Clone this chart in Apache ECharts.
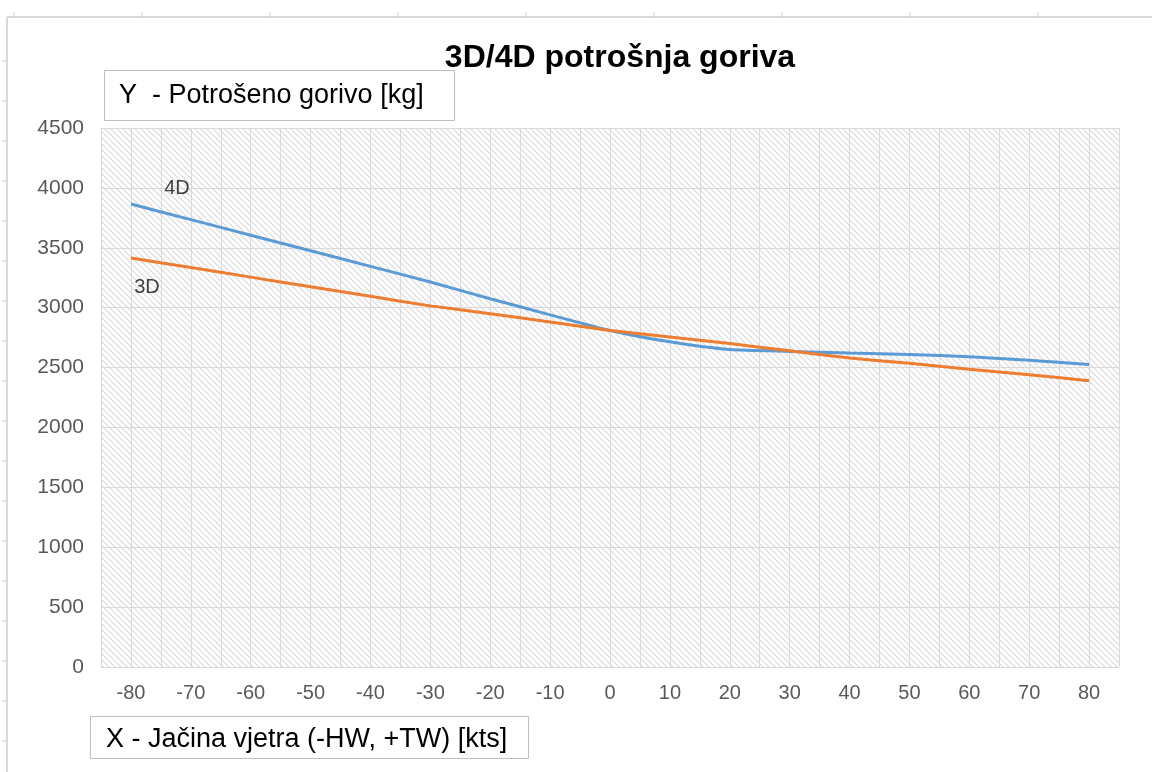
<!DOCTYPE html>
<html>
<head>
<meta charset="utf-8">
<script src="https://cdn.jsdelivr.net/npm/echarts@6/dist/echarts.min.js"></script>
<style>
html,body{margin:0;padding:0;background:#fff;}
#c{width:1152px;height:772px;}
</style>
</head>
<body>
<div id="c"></div>
<script>
// ---- data ----
const windKts = [-80,-70,-60,-50,-40,-30,-20,-10,0,10,20,30,40,50,60,70,80];
const fuel4D = [3865,3735,3605,3475,3345,3214,3075,2940,2810,2715,2650,2635,2622,2610,2590,2560,2525];
const fuel3D = [3415,3335,3255,3175,3095,3015,2950,2880,2810,2755,2700,2640,2580,2535,2485,2440,2390];
const seriesNames = ['4D','3D'];
const chartTitle = '3D/4D potrošnja goriva';
const yTitle = 'Y  - Potrošeno gorivo [kg]';
const xTitle = 'X - Jačina vjetra (-HW, +TW) [kts]';

// hatch pattern tile
function makeHatch(p){
  const c = document.createElement('canvas');
  c.width = p; c.height = p;
  const g = c.getContext('2d');
  g.fillStyle = '#ffffff'; g.fillRect(0,0,p,p);
  g.strokeStyle = '#d9d9d9'; g.lineWidth = 1.2;
  g.beginPath();
  g.moveTo(-1,-1); g.lineTo(p+1,p+1);
  g.moveTo(-1,p-1); g.lineTo(1,p+1);
  g.moveTo(p-1,-1); g.lineTo(p+1,1);
  g.stroke();
  return c;
}

const chart = echarts.init(document.getElementById('c'), null, {renderer:'canvas'});
const font = '"Liberation Sans", Arial, sans-serif';
const pair = arr => windKts.map((x,i)=>[x,arr[i]]);

const graphics = [
  {type:'line', shape:{x1:7,y1:17,x2:1152,y2:17}, style:{stroke:'#d9d9d9', lineWidth:2}, silent:true},
  {type:'line', shape:{x1:7,y1:17,x2:7,y2:772}, style:{stroke:'#d9d9d9', lineWidth:2}, silent:true},
];
for (let x=14; x<1152; x+=128) graphics.push({type:'line', shape:{x1:x,y1:12,x2:x,y2:17}, style:{stroke:'#d0d0d0', lineWidth:1}, silent:true});
for (let y=61; y<772; y+=40) graphics.push({type:'line', shape:{x1:2,y1:y,x2:7,y2:y}, style:{stroke:'#d0d0d0', lineWidth:1}, silent:true});
graphics.push(
  {type:'rect', shape:{x:104.5,y:70.5,width:350,height:50}, style:{fill:'#fff', stroke:'#bfbfbf', lineWidth:1}, silent:true},
  {type:'text', x:119, y:96, style:{text:yTitle, font:'27px '+font, fill:'#000', verticalAlign:'middle'}, silent:true},
  {type:'rect', shape:{x:90.5,y:716.5,width:438,height:42}, style:{fill:'#fff', stroke:'#bfbfbf', lineWidth:1}, silent:true},
  {type:'text', x:106, y:740, style:{text:xTitle, font:'27px '+font, fill:'#000', verticalAlign:'middle'}, silent:true}
);

function startLabel(name, arr, offset){
  return {symbol:'circle', symbolSize:0, silent:true,
    label:{show:true, position:'inside', offset:offset, color:'#404040', fontFamily:font, fontSize:20, formatter:name},
    data:[{coord:[windKts[0], arr[0]]}]};
}

chart.setOption({
  animation:false,
  backgroundColor:'#fff',
  title:{text:chartTitle, left:615, top:37, textAlign:'center',
    textStyle:{fontFamily:font, fontWeight:'bold', fontSize:32, color:'#000'}},
  grid:{left:101, right:33, top:128, bottom:105, show:true, borderWidth:0,
    backgroundColor:{image:makeHatch(6), repeat:'repeat'}},
  xAxis:{type:'value', min:-85, max:85, interval:5,
    axisLine:{show:false}, axisTick:{show:false},
    splitLine:{show:true, lineStyle:{color:'#d9d9d9', width:1}},
    axisLabel:{margin:16, color:'#595959', fontFamily:font, fontSize:20,
      formatter:v => (Math.abs(v)<=80 && v%10===0) ? String(v) : ''}},
  yAxis:{type:'value', min:0, max:4500, interval:500,
    axisLine:{show:false}, axisTick:{show:false},
    splitLine:{show:true, lineStyle:{color:'#d9d9d9', width:1}},
    axisLabel:{margin:17, color:'#595959', fontFamily:font, fontSize:21, formatter:v => String(v)}},
  series:[
    {name:seriesNames[0], type:'line', data:pair(fuel4D), symbol:'none', smooth:0.2,
      lineStyle:{color:'#5B9BD5', width:3}, itemStyle:{color:'#5B9BD5'},
      markPoint:startLabel(seriesNames[0], fuel4D, [46,-16])},
    {name:seriesNames[1], type:'line', data:pair(fuel3D), symbol:'none', smooth:0.2,
      lineStyle:{color:'#ED7D31', width:3}, itemStyle:{color:'#ED7D31'},
      markPoint:startLabel(seriesNames[1], fuel3D, [16,30])}
  ],
  graphic:graphics
});
</script>
</body>
</html>
